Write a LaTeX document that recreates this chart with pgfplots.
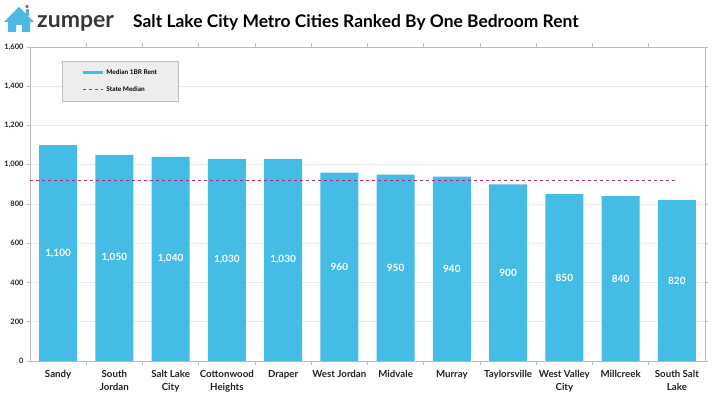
\documentclass[border=0pt]{standalone}
\usepackage{fontspec}
\setmainfont{Lato}
\usepackage{pgfplots}
\usepackage{pgfplotstable}
\pgfplotsset{compat=1.18}

\definecolor{barblue}{HTML}{45BCE5}
\definecolor{logoblue}{HTML}{4BB8E6}
\definecolor{heartpink}{HTML}{E8337C}
\definecolor{medline}{HTML}{B0287A}
\definecolor{axisgray}{HTML}{BDBDBD}
\definecolor{gridgray}{HTML}{EAEAEA}
\definecolor{textdark}{HTML}{222222}

\pgfplotstableread{
idx rent
0  1100
1  1050
2  1040
3  1030
4  1030
5  960
6  950
7  940
8  900
9  850
10 840
11 820
}\renttable

\pgfplotstableread{
idx median
-0.5 920
11   920
}\mediantable

\begin{document}
\begin{tikzpicture}
\path[use as bounding box] (0pt,0pt) rectangle (720pt,405pt);

% logo: house with heart
\begin{scope}[x=1pt,y=1pt]
\fill[logoblue] (4,383) -- (19,398) -- (34,383) -- (30,383) -- (30,373) -- (22,373) -- (22,380) -- (16,380) -- (16,373) -- (8,373) -- (8,383) -- cycle;
\fill[logoblue] (25.5,389) rectangle (28.5,396);
\fill[heartpink] (27,398.5) circle (1.9);
\node[anchor=base west, font=\fontsize{23}{23}\selectfont\bfseries, text=textdark!90, inner sep=0] at (37,377) {zumper};
% title
\node[anchor=base west, font=\fontsize{17.4}{18}\selectfont\bfseries, text=black, inner sep=0] at (133,377) {Salt Lake City Metro Cities Ranked By One Bedroom Rent};
\end{scope}

\begin{axis}[
  at={(30pt,44pt)}, anchor=south west,
  scale only axis, width=675pt, height=314pt,
  xmin=-0.5, xmax=11.5, ymin=0, ymax=1600,
  ytick={0,200,...,1600},
  yticklabel style={font=\fontsize{7.5}{8}\selectfont\bfseries, text=textdark},
  /pgf/number format/assume math mode=true,
  /pgf/number format/1000 sep={,},
  ymajorgrids, grid style={gridgray, line width=0.6pt},
  axis line style={axisgray, line width=0.7pt},
  xtick={0,...,11},
  xticklabels={Sandy,South\\Jordan,Salt Lake\\City,Cottonwood\\Heights,Draper,West Jordan,Midvale,Murray,Taylorsville,West Valley\\City,Millcreek,South Salt\\Lake},
  xticklabel style={font=\fontsize{9.7}{13}\selectfont\bfseries, text=textdark, align=center, anchor=north, yshift=-3pt},
  minor xtick={0.5,1.5,...,10.5},
  major x tick style={draw=none},
  minor x tick style={axisgray, line width=0.6pt},
  y tick style={axisgray, line width=0.6pt},
  tick align=outside,
  major tick length=3pt, minor tick length=4pt,
  legend style={at={(0.047,0.955)}, anchor=north west, fill=gray!14, draw=axisgray,
    font=\fontsize{6.5}{7}\selectfont\bfseries, row sep=7pt, inner xsep=19pt, inner ysep=6pt, cells={anchor=west}},
  legend cell align=left,
]
\addplot[ybar, bar width=38pt, fill=barblue, draw=none, bar shift=0pt,
  legend image code/.code={\draw[barblue, line width=3.5pt] (0pt,0pt) -- (20pt,0pt);}]
  table[x=idx, y=rent] {\renttable};
\addlegendentry{Median 1BR Rent}
\addplot[medline, line width=0.7pt, dash pattern=on 3pt off 3pt,
  legend image code/.code={\draw[medline, line width=0.7pt, dash pattern=on 3pt off 3pt] (0pt,0pt) -- (20pt,0pt);}]
  table[x=idx, y=median] {\mediantable};
\addlegendentry{State Median}
% value labels centred in each bar
\addplot[draw=none, mark=none, forget plot,
  nodes near coords, point meta=explicit,
  every node near coord/.append style={anchor=center, text=white, font=\fontsize{10}{10}\selectfont\bfseries,
    /pgf/number format/1000 sep={,}}]
  table[x=idx, y expr=\thisrow{rent}/2, meta=rent] {\renttable};
\draw[axisgray, line width=0.7pt] (rel axis cs:0,1) -- (rel axis cs:1,1) -- (rel axis cs:1,0);
\end{axis}
\end{tikzpicture}
\end{document}
